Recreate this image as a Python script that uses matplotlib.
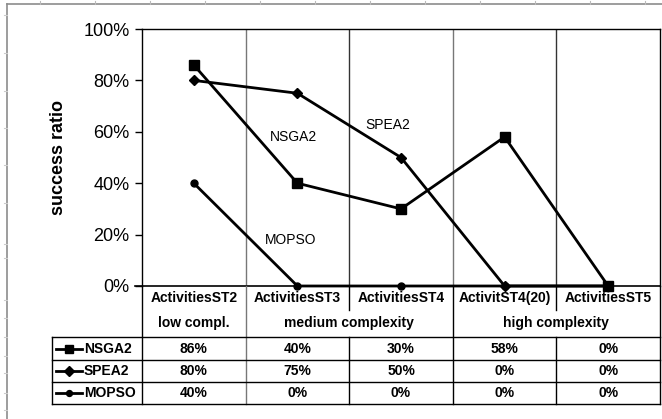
import matplotlib
matplotlib.use('Agg')
import matplotlib.pyplot as plt
from matplotlib.ticker import PercentFormatter

plt.rcParams['font.family'] = ['Liberation Sans', 'DejaVu Sans']

# data
categories = ['ActivitiesST2', 'ActivitiesST3', 'ActivitiesST4', 'ActivitST4(20)', 'ActivitiesST5']
groups = [('low compl.', 0, 1), ('medium complexity', 1, 3), ('high complexity', 3, 5)]
series_names = ['NSGA2', 'SPEA2', 'MOPSO']
nsga2 = [86, 40, 30, 58, 0]
spea2 = [80, 75, 50, 0, 0]
mopso = [40, 0, 0, 0, 0]
markers = ['s', 'D', 'o']
marker_sizes = [7.5, 5.5, 5]
series_values = [nsga2, spea2, mopso]
inline_labels = [('NSGA2', 1.46, 58), ('SPEA2', 2.37, 62.5), ('MOPSO', 1.43, 18)]

W, H = 662, 419
fig = plt.figure(figsize=(W / 100, H / 100), dpi=100)

# pixel geometry
x0, x1 = 142, 660
y_top, y_zero = 29, 286
col_w = (x1 - x0) / len(categories)

ax = fig.add_axes([x0 / W, 1 - y_zero / H, (x1 - x0) / W, (y_zero - y_top) / H])
ax.set_xlim(0, len(categories))
ax.set_ylim(0, 100)
ax.set_yticks(range(0, 101, 20))
ax.yaxis.set_major_formatter(PercentFormatter(decimals=0))
ax.tick_params(axis='y', length=5, width=1, labelsize=13, pad=4)
ax.set_xticks([])
for s in ax.spines.values():
    s.set_color('black')
    s.set_linewidth(1)
ax.spines['bottom'].set_visible(False)
ax.set_ylabel('success ratio', fontsize=13, fontweight='bold', labelpad=12)

for i in range(1, len(categories)):
    ax.axvline(i, color='#333333' if i % 2 == 0 else '#777777', lw=1, zorder=1)

xs = [i + 0.5 for i in range(len(categories))]
for vals, m, ms in zip(series_values, markers, marker_sizes):
    ax.plot(xs, vals, color='black', lw=2, marker=m, markersize=ms,
            markerfacecolor='black', markeredgecolor='black', zorder=3, clip_on=False)

for txt, lx, ly in inline_labels:
    ax.text(lx, ly, txt, fontsize=10, ha='center', va='center')

# overlay in pixel coordinates for the data table and frame
ov = fig.add_axes([0, 0, 1, 1], facecolor='none')
ov.set_xlim(0, W)
ov.set_ylim(H, 0)
ov.axis('off')

lc = 'black'
# zero line extended
ov.plot([135, x1], [y_zero, y_zero], color=lc, lw=1.2)
row_cat = 310
row_lines = [337, 360, 382, 404]
tab_left = 52

# verticals below the plot
ov.plot([x0, x0], [y_zero, row_lines[-1]], color=lc, lw=1)
ov.plot([x1, x1], [y_zero, row_lines[-1]], color=lc, lw=1)
for i in range(1, len(categories)):
    xv = x0 + i * col_w
    group_edge = any(g[1] == i for g in groups)
    bottom = row_lines[-1] if group_edge else row_cat
    ov.plot([xv, xv], [y_zero, bottom], color='#777777' if i == 1 else lc, lw=1)
    if not group_edge:
        ov.plot([xv, xv], [row_lines[0], row_lines[-1]], color=lc, lw=1)
ov.plot([tab_left, tab_left], [row_lines[0], row_lines[-1]], color=lc, lw=1)
for yl in row_lines:
    ov.plot([tab_left, x1], [yl, yl], color=lc, lw=1)

for i, c in enumerate(categories):
    ov.text(x0 + (i + 0.5) * col_w, 298, c, ha='center', va='center',
            fontsize=10, fontweight='bold')
for name, a, b in groups:
    ov.text(x0 + (a + b) / 2 * col_w, 323, name, ha='center', va='center',
            fontsize=10, fontweight='bold')

for r, (name, vals, m, ms) in enumerate(zip(series_names, series_values, markers, marker_sizes)):
    yc = (row_lines[r] + row_lines[r + 1]) / 2
    ov.plot([56, 82], [yc, yc], color='black', lw=2)
    ov.plot([69], [yc], marker=m, color='black', markersize=ms * 0.85)
    ov.text(84, yc, name, ha='left', va='center', fontsize=10, fontweight='bold')
    for i, v in enumerate(vals):
        ov.text(x0 + (i + 0.5) * col_w, yc, f'{v}%', ha='center', va='center',
                fontsize=10, fontweight='bold')

# outer frame
fc = '#8c8c8c'
ov.plot([7, W], [4, 4], color=fc, lw=1.2)
ov.plot([7, 7], [4, H], color=fc, lw=1.2)
for tx in range(40, W, 55):
    ov.plot([tx, tx], [1, 4], color='#bbbbbb', lw=0.8)
for ty in [15, 53, 91, 128, 165, 203, 244, 258, 300, 318, 337, 356, 373, 393, 410]:
    ov.plot([4, 7], [ty, ty], color='#cccccc', lw=0.8)

fig.savefig('out.png', dpi=100)
